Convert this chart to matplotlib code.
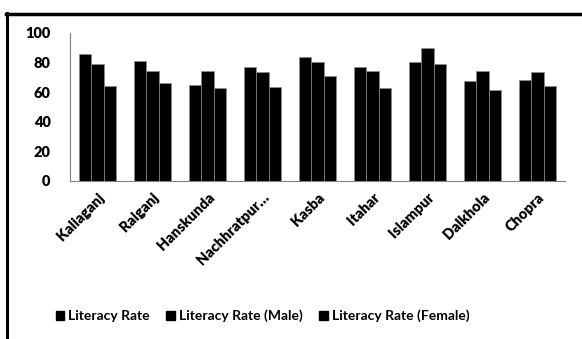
import matplotlib.pyplot as plt
import numpy as np
from matplotlib.lines import Line2D
from matplotlib.patches import Patch

plt.rcParams["font.family"] = ["Lato", "DejaVu Sans"]
plt.rcParams["font.weight"] = "bold"

blocks = ["Kaliaganj", "Raiganj", "Hanskunda", "Nachhratpur\u2026", "Kasba",
          "Itahar", "Islampur", "Dalkhola", "Chopra"]
literacy = [85.4, 81.1, 64.5, 76.7, 83.4, 76.7, 80.5, 67.2, 67.9]
literacy_male = [78.9, 74.0, 74.0, 73.3, 80.5, 74.0, 89.7, 74.4, 73.7]
literacy_female = [64.3, 65.9, 62.9, 63.6, 70.8, 62.9, 78.9, 61.6, 64.3]
series_names = ["Literacy Rate", "Literacy Rate (Male)", "Literacy Rate (Female)"]
yticks = [0, 20, 40, 60, 80, 100]

W, H = 582, 339
fig = plt.figure(figsize=(W / 100, H / 100), dpi=100)
ax = fig.add_axes([70 / W, 1 - 181 / H, 495 / W, (181 - 32.7) / H])

x = np.arange(len(blocks))
width = 0.667 / 3
for i, vals in enumerate([literacy, literacy_male, literacy_female]):
    ax.bar(x + (i - 1) * width, vals, width, color="black",
           edgecolor="#8c8c8c", linewidth=0.5, label=series_names[i])

ax.set_xlim(-0.5, len(blocks) - 0.5)
ax.set_ylim(0, 100)
ax.set_yticks(yticks)
ax.set_yticklabels([str(t) for t in yticks], fontsize=10.5, fontweight="heavy")
ax.set_xticks(x)
ax.set_xticklabels(blocks, rotation=45, ha="right", rotation_mode="anchor",
                   fontsize=10.5, fontweight="heavy")
ax.tick_params(length=0)
ax.tick_params(axis="y", pad=14)
ax.tick_params(axis="x", pad=7)
for side in ["top", "right"]:
    ax.spines[side].set_visible(False)
for side in ["left", "bottom"]:
    ax.spines[side].set_color("#808080")
    ax.spines[side].set_linewidth(0.8)

handles = [Patch(facecolor="black", edgecolor="black") for _ in series_names]
fig.legend(handles, series_names, loc="center left", bbox_to_anchor=(43 / W, 1 - 316 / H),
           ncol=3, frameon=False, handlelength=0.6, handleheight=0.6,
           handletextpad=0.3, columnspacing=1.2, prop={"weight": "bold", "size": 10})

# chart frame (only top and left edges visible in crop)
fig.add_artist(Line2D([7 / W, 7 / W], [0, 1 - 13 / H], color="black", linewidth=2.2,
                      transform=fig.transFigure))
fig.add_artist(Line2D([6 / W, 1], [1 - 13.5 / H, 1 - 13.5 / H], color="black", linewidth=2.5,
                      transform=fig.transFigure))

fig.savefig("out.png", dpi=100)
